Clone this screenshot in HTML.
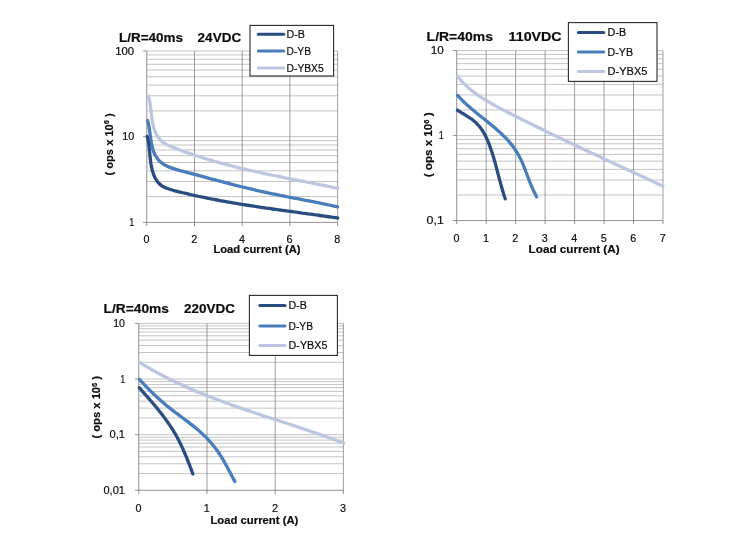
<!DOCTYPE html>
<html><head><meta charset="utf-8"><title>Electrical endurance L/R=40ms</title>
<style>html,body{margin:0;padding:0;background:#fff}svg{display:block}</style></head>
<body>
<svg width="750" height="550" viewBox="0 0 750 550">
<rect width="750" height="550" fill="#fff"/>
<path d="M146.8,196.60H337.6M146.8,181.51H337.6M146.8,170.80H337.6M146.8,162.50H337.6M146.8,155.71H337.6M146.8,149.98H337.6M146.8,145.01H337.6M146.8,140.62H337.6M146.8,136.70H337.6M146.8,110.90H337.6M146.8,95.81H337.6M146.8,85.10H337.6M146.8,76.80H337.6M146.8,70.01H337.6M146.8,64.28H337.6M146.8,59.31H337.6M146.8,54.92H337.6M146.8,51.00H337.6" stroke="#bdbdbd" stroke-width="0.9" fill="none"/>
<path d="M194.50,51.0V222.4M242.20,51.0V222.4M289.90,51.0V222.4M337.60,51.0V222.4" stroke="#7d7d7d" stroke-width="0.75" fill="none"/>
<path d="M146.80,51.0V226.0M143.0,222.40H337.6M194.50,222.4V226.0M242.20,222.4V226.0M289.90,222.4V226.0M337.60,222.4V226.0M143.0,136.70H146.8M143.0,51.00H146.8" stroke="#7d7d7d" stroke-width="0.85" fill="none"/>
<path d="M148.4,96.1 C148.7,97.0 149.4,99.8 149.8,101.7 C150.1,103.6 150.4,105.6 150.6,107.6 C150.9,109.5 151.0,111.5 151.3,113.5 C151.5,115.5 151.7,117.4 152.0,119.4 C152.4,121.4 152.7,123.4 153.2,125.3 C153.7,127.3 154.2,129.2 154.9,131.1 C155.7,132.9 156.5,134.8 157.6,136.4 C158.6,138.0 159.9,139.5 161.2,140.8 C162.6,142.0 164.2,143.1 165.9,144.1 C167.5,145.0 169.4,145.8 171.2,146.6 C173.0,147.4 174.9,148.1 176.7,148.8 C178.6,149.5 180.5,150.2 182.3,150.9 C184.2,151.6 186.1,152.3 187.9,152.9 C189.8,153.6 191.7,154.2 193.6,154.8 C195.5,155.5 197.3,156.1 199.2,156.7 C201.1,157.3 203.0,157.9 204.9,158.5 C206.8,159.0 208.7,159.6 210.6,160.2 C212.5,160.7 214.4,161.3 216.3,161.8 C218.2,162.3 220.1,162.9 222.0,163.4 C223.9,163.9 225.8,164.4 227.7,164.9 C229.6,165.4 231.5,165.9 233.4,166.4 C235.3,166.9 237.2,167.3 239.1,167.8 C241.1,168.3 243.0,168.7 244.9,169.2 C246.8,169.6 248.7,170.1 250.6,170.5 C252.6,170.9 254.5,171.4 256.4,171.8 C258.3,172.2 260.3,172.6 262.2,173.1 C264.1,173.5 266.0,173.9 268.0,174.3 C269.9,174.7 271.8,175.1 273.7,175.5 C275.7,175.9 277.6,176.3 279.5,176.7 C281.5,177.1 283.4,177.5 285.3,177.9 C287.3,178.2 289.2,178.6 291.1,179.0 C293.1,179.4 295.0,179.8 296.9,180.2 C298.9,180.5 300.8,180.9 302.7,181.3 C304.7,181.7 306.6,182.1 308.5,182.4 C310.5,182.8 312.4,183.2 314.4,183.6 C316.3,184.0 318.2,184.4 320.2,184.7 C322.1,185.1 324.0,185.5 326.0,185.9 C327.9,186.3 329.9,186.7 331.8,187.1 C333.7,187.5 336.6,188.1 337.6,188.3" stroke="#bcc6e0" stroke-width="3.3" fill="none" stroke-linecap="round" stroke-linejoin="round"/>
<path d="M147.6,120.5 C147.8,121.4 148.5,124.2 148.9,126.0 C149.2,127.9 149.5,129.9 149.8,131.8 C150.0,133.7 150.3,135.7 150.6,137.7 C150.8,139.6 151.1,141.6 151.5,143.6 C151.9,145.5 152.3,147.5 152.9,149.4 C153.5,151.3 154.2,153.1 155.0,154.8 C155.9,156.5 156.9,158.1 158.1,159.5 C159.3,161.0 160.8,162.2 162.3,163.3 C163.8,164.4 165.6,165.4 167.3,166.2 C169.0,167.1 170.9,167.8 172.8,168.4 C174.6,169.1 176.5,169.6 178.4,170.1 C180.3,170.7 182.2,171.1 184.1,171.6 C186.0,172.1 187.9,172.6 189.7,173.1 C191.6,173.6 193.5,174.1 195.4,174.6 C197.3,175.1 199.2,175.6 201.1,176.1 C202.9,176.6 204.8,177.1 206.7,177.6 C208.6,178.1 210.5,178.7 212.3,179.2 C214.2,179.7 216.1,180.2 218.0,180.7 C219.9,181.1 221.7,181.6 223.6,182.1 C225.5,182.6 227.4,183.1 229.2,183.6 C231.1,184.1 233.0,184.6 234.9,185.1 C236.8,185.5 238.6,186.0 240.5,186.5 C242.4,186.9 244.3,187.4 246.2,187.9 C248.1,188.3 250.0,188.8 251.8,189.2 C253.7,189.7 255.6,190.1 257.5,190.6 C259.4,191.0 261.3,191.4 263.2,191.8 C265.1,192.2 267.0,192.7 268.9,193.1 C270.8,193.5 272.7,193.9 274.6,194.2 C276.5,194.6 278.4,195.0 280.3,195.4 C282.3,195.8 284.2,196.2 286.1,196.5 C288.0,196.9 289.9,197.3 291.8,197.6 C293.7,198.0 295.6,198.4 297.6,198.7 C299.5,199.1 301.4,199.5 303.3,199.8 C305.2,200.2 307.1,200.6 309.0,200.9 C311.0,201.3 312.9,201.7 314.8,202.0 C316.7,202.4 318.6,202.8 320.5,203.2 C322.4,203.6 324.3,204.0 326.2,204.4 C328.1,204.8 330.0,205.2 331.9,205.6 C333.8,206.0 336.6,206.6 337.6,206.8" stroke="#4a7dbb" stroke-width="3.3" fill="none" stroke-linecap="round" stroke-linejoin="round"/>
<path d="M147.2,136.3 C147.4,137.3 148.1,140.2 148.5,142.1 C148.8,144.1 149.0,146.0 149.2,148.0 C149.5,150.0 149.6,151.9 149.8,153.9 C150.0,155.9 150.2,157.9 150.4,159.8 C150.6,161.8 150.9,163.8 151.3,165.8 C151.7,167.8 152.1,169.8 152.7,171.7 C153.3,173.7 154.0,175.7 154.9,177.5 C155.8,179.2 156.8,181.0 158.0,182.4 C159.2,183.8 160.7,185.0 162.2,186.1 C163.8,187.1 165.6,187.8 167.4,188.5 C169.2,189.2 171.2,189.7 173.1,190.3 C175.0,190.8 177.0,191.3 179.0,191.8 C180.9,192.3 182.9,192.7 184.8,193.2 C186.8,193.7 188.7,194.1 190.7,194.6 C192.6,195.0 194.6,195.4 196.5,195.9 C198.5,196.3 200.4,196.7 202.4,197.1 C204.3,197.5 206.3,197.9 208.2,198.3 C210.2,198.7 212.2,199.1 214.1,199.5 C216.1,199.8 218.0,200.2 220.0,200.6 C221.9,200.9 223.9,201.3 225.8,201.6 C227.8,202.0 229.7,202.3 231.7,202.7 C233.6,203.0 235.6,203.3 237.5,203.6 C239.5,204.0 241.4,204.3 243.4,204.6 C245.3,204.9 247.3,205.2 249.3,205.5 C251.2,205.8 253.2,206.1 255.1,206.4 C257.1,206.7 259.0,207.0 261.0,207.3 C262.9,207.6 264.9,207.9 266.9,208.2 C268.8,208.4 270.8,208.7 272.7,209.0 C274.7,209.3 276.6,209.5 278.6,209.8 C280.6,210.1 282.5,210.4 284.5,210.6 C286.4,210.9 288.4,211.2 290.4,211.4 C292.3,211.7 294.3,212.0 296.3,212.2 C298.2,212.5 300.2,212.8 302.2,213.1 C304.1,213.3 306.1,213.6 308.1,213.9 C310.0,214.1 312.0,214.4 314.0,214.7 C315.9,214.9 317.9,215.2 319.9,215.5 C321.8,215.8 323.8,216.0 325.8,216.3 C327.8,216.6 329.7,216.9 331.7,217.2 C333.7,217.4 336.7,217.9 337.7,218.0" stroke="#2a4d80" stroke-width="3.3" fill="none" stroke-linecap="round" stroke-linejoin="round"/>
<text x="134.2" y="225.9" font-family="'Liberation Sans', Arial, sans-serif" font-size="10.6" fill="#0c0c0c" stroke="#0c0c0c" stroke-width="0.18" text-anchor="end" textLength="5.0" lengthAdjust="spacingAndGlyphs">1</text>
<text x="134.2" y="140.2" font-family="'Liberation Sans', Arial, sans-serif" font-size="10.6" fill="#0c0c0c" stroke="#0c0c0c" stroke-width="0.18" text-anchor="end" textLength="12.0" lengthAdjust="spacingAndGlyphs">10</text>
<text x="134.2" y="54.5" font-family="'Liberation Sans', Arial, sans-serif" font-size="10.6" fill="#0c0c0c" stroke="#0c0c0c" stroke-width="0.18" text-anchor="end" textLength="19.0" lengthAdjust="spacingAndGlyphs">100</text>
<text x="146.5" y="242.8" font-family="'Liberation Sans', Arial, sans-serif" font-size="10.6" fill="#0c0c0c" stroke="#0c0c0c" stroke-width="0.18" text-anchor="middle" textLength="6" lengthAdjust="spacingAndGlyphs">0</text>
<text x="194.2" y="242.8" font-family="'Liberation Sans', Arial, sans-serif" font-size="10.6" fill="#0c0c0c" stroke="#0c0c0c" stroke-width="0.18" text-anchor="middle" textLength="6" lengthAdjust="spacingAndGlyphs">2</text>
<text x="241.9" y="242.8" font-family="'Liberation Sans', Arial, sans-serif" font-size="10.6" fill="#0c0c0c" stroke="#0c0c0c" stroke-width="0.18" text-anchor="middle" textLength="6" lengthAdjust="spacingAndGlyphs">4</text>
<text x="289.6" y="242.8" font-family="'Liberation Sans', Arial, sans-serif" font-size="10.6" fill="#0c0c0c" stroke="#0c0c0c" stroke-width="0.18" text-anchor="middle" textLength="6" lengthAdjust="spacingAndGlyphs">6</text>
<text x="337.3" y="242.8" font-family="'Liberation Sans', Arial, sans-serif" font-size="10.6" fill="#0c0c0c" stroke="#0c0c0c" stroke-width="0.18" text-anchor="middle" textLength="6" lengthAdjust="spacingAndGlyphs">8</text>
<text y="42.4" font-family="'Liberation Sans', Arial, sans-serif" font-size="13.2" font-weight="bold" fill="#0c0c0c" stroke="#0c0c0c" stroke-width="0.18"><tspan x="119.0" textLength="64.0" lengthAdjust="spacingAndGlyphs">L/R=40ms</tspan><tspan x="197.6" textLength="43.6" lengthAdjust="spacingAndGlyphs">24VDC</tspan></text>
<text x="213.4" y="252.6" font-family="'Liberation Sans', Arial, sans-serif" font-size="10.6" font-weight="bold" fill="#0c0c0c" stroke="#0c0c0c" stroke-width="0.18" textLength="87.2" lengthAdjust="spacingAndGlyphs">Load current (A)</text>
<text transform="translate(113.0,175.5) rotate(-90)" font-family="'Liberation Sans', Arial, sans-serif" font-size="10.6" font-weight="bold" fill="#0c0c0c" stroke="#0c0c0c" stroke-width="0.18" textLength="62.2" lengthAdjust="spacingAndGlyphs">( ops x 10<tspan dy="-3.6" font-size="7">6</tspan><tspan dy="3.6"> )</tspan></text>
<rect x="250.0" y="25.4" width="83.6" height="50.6" fill="#fff" stroke="#2b2b2b" stroke-width="1.1"/>
<path d="M258.3,34.3H283.7" stroke="#2a4d80" stroke-width="3" stroke-linecap="round"/>
<text x="286.6" y="37.8" font-family="'Liberation Sans', Arial, sans-serif" font-size="10" fill="#0c0c0c" stroke="#0c0c0c" stroke-width="0.18" textLength="18.4" lengthAdjust="spacingAndGlyphs">D-B</text>
<path d="M258.3,51.0H283.7" stroke="#4a7dbb" stroke-width="3" stroke-linecap="round"/>
<text x="286.6" y="54.5" font-family="'Liberation Sans', Arial, sans-serif" font-size="10" fill="#0c0c0c" stroke="#0c0c0c" stroke-width="0.18" textLength="24.4" lengthAdjust="spacingAndGlyphs">D-YB</text>
<path d="M258.3,68.0H283.7" stroke="#bcc6e0" stroke-width="3" stroke-linecap="round"/>
<text x="286.6" y="71.5" font-family="'Liberation Sans', Arial, sans-serif" font-size="10" fill="#0c0c0c" stroke="#0c0c0c" stroke-width="0.18" textLength="37.0" lengthAdjust="spacingAndGlyphs">D-YBX5</text>
<path d="M456.7,195.00H663.0M456.7,180.02H663.0M456.7,169.39H663.0M456.7,161.15H663.0M456.7,154.42H663.0M456.7,148.72H663.0M456.7,143.79H663.0M456.7,139.44H663.0M456.7,135.55H663.0M456.7,109.95H663.0M456.7,94.97H663.0M456.7,84.34H663.0M456.7,76.10H663.0M456.7,69.37H663.0M456.7,63.67H663.0M456.7,58.74H663.0M456.7,54.39H663.0M456.7,50.50H663.0" stroke="#bdbdbd" stroke-width="0.9" fill="none"/>
<path d="M486.17,50.5V220.6M515.64,50.5V220.6M545.11,50.5V220.6M574.58,50.5V220.6M604.05,50.5V220.6M633.52,50.5V220.6M662.99,50.5V220.6" stroke="#7d7d7d" stroke-width="0.75" fill="none"/>
<path d="M456.70,50.5V224.2M452.9,220.60H663.0M486.17,220.6V224.2M515.64,220.6V224.2M545.11,220.6V224.2M574.58,220.6V224.2M604.05,220.6V224.2M633.52,220.6V224.2M662.99,220.6V224.2M452.9,135.55H456.7M452.9,50.50H456.7" stroke="#7d7d7d" stroke-width="0.85" fill="none"/>
<path d="M457.6,76.4 C458.2,77.1 460.1,79.6 461.5,81.1 C462.9,82.6 464.3,84.0 465.7,85.4 C467.2,86.8 468.7,88.1 470.2,89.4 C471.7,90.6 473.3,91.8 474.9,93.0 C476.5,94.2 478.1,95.4 479.8,96.5 C481.4,97.6 483.1,98.6 484.8,99.7 C486.5,100.7 488.2,101.7 489.9,102.7 C491.7,103.7 493.4,104.7 495.2,105.6 C496.9,106.6 498.7,107.5 500.5,108.5 C502.3,109.4 504.0,110.3 505.8,111.2 C507.6,112.2 509.4,113.1 511.2,114.0 C513.0,114.9 514.7,115.8 516.5,116.7 C518.3,117.6 520.1,118.5 521.9,119.4 C523.7,120.3 525.5,121.2 527.3,122.1 C529.1,123.0 530.9,123.9 532.6,124.8 C534.4,125.7 536.2,126.6 538.0,127.4 C539.8,128.3 541.6,129.2 543.4,130.1 C545.2,131.0 547.0,131.8 548.8,132.7 C550.6,133.6 552.4,134.4 554.2,135.3 C556.0,136.2 557.8,137.0 559.7,137.9 C561.5,138.8 563.3,139.6 565.1,140.5 C566.9,141.4 568.7,142.2 570.5,143.1 C572.3,143.9 574.1,144.8 575.9,145.6 C577.7,146.5 579.5,147.3 581.4,148.2 C583.2,149.0 585.0,149.9 586.8,150.7 C588.6,151.6 590.4,152.4 592.2,153.3 C594.0,154.1 595.9,155.0 597.7,155.8 C599.5,156.7 601.3,157.5 603.1,158.4 C604.9,159.2 606.7,160.0 608.6,160.9 C610.4,161.7 612.2,162.6 614.0,163.4 C615.8,164.3 617.6,165.1 619.5,165.9 C621.3,166.8 623.1,167.6 624.9,168.5 C626.7,169.3 628.5,170.1 630.3,171.0 C632.2,171.8 634.0,172.7 635.8,173.5 C637.6,174.4 639.4,175.2 641.2,176.0 C643.0,176.9 644.9,177.7 646.7,178.6 C648.5,179.4 650.3,180.3 652.1,181.1 C653.9,182.0 655.7,182.8 657.6,183.7 C659.4,184.5 662.1,185.8 663.0,186.2" stroke="#bcc6e0" stroke-width="3.3" fill="none" stroke-linecap="round" stroke-linejoin="round"/>
<path d="M457.7,95.4 C458.0,95.8 459.1,97.0 459.9,97.9 C460.7,98.7 461.4,99.5 462.2,100.3 C463.0,101.0 463.8,101.8 464.6,102.6 C465.4,103.4 466.3,104.1 467.1,104.9 C467.9,105.6 468.7,106.4 469.6,107.1 C470.4,107.8 471.3,108.6 472.1,109.3 C473.0,110.0 473.9,110.7 474.7,111.5 C475.6,112.2 476.5,112.9 477.3,113.6 C478.2,114.3 479.1,115.0 480.0,115.7 C480.9,116.4 481.7,117.1 482.6,117.8 C483.5,118.5 484.4,119.2 485.3,120.0 C486.2,120.7 487.0,121.4 487.9,122.1 C488.8,122.8 489.7,123.5 490.5,124.2 C491.4,124.9 492.3,125.6 493.1,126.4 C494.0,127.1 494.9,127.8 495.7,128.5 C496.5,129.3 497.4,130.0 498.2,130.8 C499.1,131.5 499.9,132.3 500.7,133.0 C501.5,133.8 502.3,134.6 503.1,135.4 C503.9,136.1 504.7,136.9 505.5,137.7 C506.2,138.5 507.0,139.4 507.7,140.2 C508.5,141.0 509.2,141.9 509.9,142.7 C510.7,143.6 511.4,144.4 512.0,145.3 C512.7,146.2 513.4,147.1 514.0,148.0 C514.7,148.9 515.3,149.9 515.9,150.8 C516.5,151.7 517.1,152.7 517.7,153.6 C518.3,154.6 518.8,155.6 519.3,156.6 C519.9,157.5 520.4,158.5 520.9,159.6 C521.3,160.6 521.8,161.6 522.3,162.6 C522.7,163.6 523.1,164.7 523.6,165.7 C524.0,166.8 524.4,167.8 524.8,168.8 C525.2,169.9 525.6,170.9 526.0,172.0 C526.4,173.0 526.8,174.1 527.2,175.2 C527.6,176.2 528.0,177.3 528.4,178.3 C528.8,179.4 529.2,180.4 529.6,181.5 C530.0,182.5 530.5,183.5 530.9,184.6 C531.3,185.6 531.7,186.7 532.2,187.7 C532.6,188.7 533.1,189.7 533.5,190.8 C534.0,191.8 534.5,192.8 535.0,193.8 C535.5,194.8 536.3,196.3 536.6,196.8" stroke="#4a7dbb" stroke-width="3.3" fill="none" stroke-linecap="round" stroke-linejoin="round"/>
<path d="M457.4,110.1 C457.7,110.4 458.9,111.1 459.6,111.6 C460.4,112.0 461.1,112.5 461.9,113.0 C462.7,113.4 463.5,113.9 464.3,114.4 C465.1,114.9 465.8,115.3 466.6,115.8 C467.4,116.3 468.2,116.8 468.9,117.3 C469.7,117.8 470.5,118.3 471.2,118.8 C471.9,119.4 472.6,119.9 473.4,120.5 C474.1,121.0 474.7,121.6 475.4,122.2 C476.1,122.8 476.7,123.4 477.3,124.1 C477.9,124.7 478.5,125.4 479.1,126.0 C479.6,126.7 480.2,127.4 480.7,128.1 C481.2,128.8 481.7,129.5 482.2,130.3 C482.7,131.0 483.2,131.8 483.6,132.5 C484.1,133.3 484.5,134.1 484.9,134.8 C485.3,135.6 485.8,136.4 486.1,137.2 C486.5,138.0 486.9,138.9 487.3,139.7 C487.6,140.5 488.0,141.3 488.3,142.2 C488.7,143.0 489.0,143.8 489.3,144.7 C489.6,145.5 489.9,146.4 490.2,147.2 C490.5,148.0 490.8,148.9 491.1,149.8 C491.4,150.6 491.7,151.5 492.0,152.3 C492.3,153.2 492.5,154.0 492.8,154.9 C493.1,155.7 493.3,156.6 493.6,157.5 C493.8,158.3 494.1,159.2 494.3,160.1 C494.6,160.9 494.8,161.8 495.1,162.7 C495.3,163.5 495.5,164.4 495.8,165.3 C496.0,166.1 496.2,167.0 496.5,167.9 C496.7,168.8 496.9,169.6 497.2,170.5 C497.4,171.4 497.6,172.2 497.8,173.1 C498.1,174.0 498.3,174.9 498.5,175.7 C498.8,176.6 499.0,177.5 499.2,178.3 C499.4,179.2 499.7,180.1 499.9,180.9 C500.1,181.8 500.4,182.7 500.6,183.5 C500.8,184.4 501.1,185.3 501.3,186.1 C501.6,187.0 501.8,187.9 502.1,188.7 C502.3,189.6 502.6,190.4 502.8,191.3 C503.1,192.2 503.4,193.0 503.6,193.9 C503.9,194.7 504.2,195.6 504.4,196.4 C504.7,197.3 505.2,198.5 505.3,198.9" stroke="#2a4d80" stroke-width="3.3" fill="none" stroke-linecap="round" stroke-linejoin="round"/>
<text x="443.8" y="224.1" font-family="'Liberation Sans', Arial, sans-serif" font-size="10.6" fill="#0c0c0c" stroke="#0c0c0c" stroke-width="0.18" text-anchor="end" textLength="17.2" lengthAdjust="spacingAndGlyphs">0,1</text>
<text x="443.8" y="139.1" font-family="'Liberation Sans', Arial, sans-serif" font-size="10.6" fill="#0c0c0c" stroke="#0c0c0c" stroke-width="0.18" text-anchor="end" textLength="5.0" lengthAdjust="spacingAndGlyphs">1</text>
<text x="443.8" y="54.0" font-family="'Liberation Sans', Arial, sans-serif" font-size="10.6" fill="#0c0c0c" stroke="#0c0c0c" stroke-width="0.18" text-anchor="end" textLength="13.0" lengthAdjust="spacingAndGlyphs">10</text>
<text x="456.4" y="241.8" font-family="'Liberation Sans', Arial, sans-serif" font-size="10.6" fill="#0c0c0c" stroke="#0c0c0c" stroke-width="0.18" text-anchor="middle" textLength="6" lengthAdjust="spacingAndGlyphs">0</text>
<text x="485.9" y="241.8" font-family="'Liberation Sans', Arial, sans-serif" font-size="10.6" fill="#0c0c0c" stroke="#0c0c0c" stroke-width="0.18" text-anchor="middle" textLength="6" lengthAdjust="spacingAndGlyphs">1</text>
<text x="515.3" y="241.8" font-family="'Liberation Sans', Arial, sans-serif" font-size="10.6" fill="#0c0c0c" stroke="#0c0c0c" stroke-width="0.18" text-anchor="middle" textLength="6" lengthAdjust="spacingAndGlyphs">2</text>
<text x="544.8" y="241.8" font-family="'Liberation Sans', Arial, sans-serif" font-size="10.6" fill="#0c0c0c" stroke="#0c0c0c" stroke-width="0.18" text-anchor="middle" textLength="6" lengthAdjust="spacingAndGlyphs">3</text>
<text x="574.3" y="241.8" font-family="'Liberation Sans', Arial, sans-serif" font-size="10.6" fill="#0c0c0c" stroke="#0c0c0c" stroke-width="0.18" text-anchor="middle" textLength="6" lengthAdjust="spacingAndGlyphs">4</text>
<text x="603.8" y="241.8" font-family="'Liberation Sans', Arial, sans-serif" font-size="10.6" fill="#0c0c0c" stroke="#0c0c0c" stroke-width="0.18" text-anchor="middle" textLength="6" lengthAdjust="spacingAndGlyphs">5</text>
<text x="633.2" y="241.8" font-family="'Liberation Sans', Arial, sans-serif" font-size="10.6" fill="#0c0c0c" stroke="#0c0c0c" stroke-width="0.18" text-anchor="middle" textLength="6" lengthAdjust="spacingAndGlyphs">6</text>
<text x="662.7" y="241.8" font-family="'Liberation Sans', Arial, sans-serif" font-size="10.6" fill="#0c0c0c" stroke="#0c0c0c" stroke-width="0.18" text-anchor="middle" textLength="6" lengthAdjust="spacingAndGlyphs">7</text>
<text y="40.6" font-family="'Liberation Sans', Arial, sans-serif" font-size="13.2" font-weight="bold" fill="#0c0c0c" stroke="#0c0c0c" stroke-width="0.18"><tspan x="426.6" textLength="66.4" lengthAdjust="spacingAndGlyphs">L/R=40ms</tspan><tspan x="508.6" textLength="53.0" lengthAdjust="spacingAndGlyphs">110VDC</tspan></text>
<text x="528.6" y="252.6" font-family="'Liberation Sans', Arial, sans-serif" font-size="10.6" font-weight="bold" fill="#0c0c0c" stroke="#0c0c0c" stroke-width="0.18" textLength="91.0" lengthAdjust="spacingAndGlyphs">Load current (A)</text>
<text transform="translate(432.4,177.3) rotate(-90)" font-family="'Liberation Sans', Arial, sans-serif" font-size="10.6" font-weight="bold" fill="#0c0c0c" stroke="#0c0c0c" stroke-width="0.18" textLength="65.0" lengthAdjust="spacingAndGlyphs">( ops x 10<tspan dy="-3.6" font-size="7">6</tspan><tspan dy="3.6"> )</tspan></text>
<rect x="568.4" y="22.6" width="88.6" height="58.8" fill="#fff" stroke="#2b2b2b" stroke-width="1.1"/>
<path d="M578.3,32.6H603.7" stroke="#2a4d80" stroke-width="3" stroke-linecap="round"/>
<text x="607.6" y="36.1" font-family="'Liberation Sans', Arial, sans-serif" font-size="10" fill="#0c0c0c" stroke="#0c0c0c" stroke-width="0.18" textLength="18.6" lengthAdjust="spacingAndGlyphs">D-B</text>
<path d="M578.3,52.0H603.7" stroke="#4a7dbb" stroke-width="3" stroke-linecap="round"/>
<text x="607.6" y="55.5" font-family="'Liberation Sans', Arial, sans-serif" font-size="10" fill="#0c0c0c" stroke="#0c0c0c" stroke-width="0.18" textLength="25.4" lengthAdjust="spacingAndGlyphs">D-YB</text>
<path d="M578.3,71.4H603.7" stroke="#bcc6e0" stroke-width="3" stroke-linecap="round"/>
<text x="607.6" y="74.9" font-family="'Liberation Sans', Arial, sans-serif" font-size="10" fill="#0c0c0c" stroke="#0c0c0c" stroke-width="0.18" textLength="39.8" lengthAdjust="spacingAndGlyphs">D-YBX5</text>
<path d="M138.8,473.55H343.4M138.8,463.76H343.4M138.8,456.81H343.4M138.8,451.42H343.4M138.8,447.01H343.4M138.8,443.29H343.4M138.8,440.06H343.4M138.8,437.22H343.4M138.8,434.67H343.4M138.8,417.92H343.4M138.8,408.13H343.4M138.8,401.18H343.4M138.8,395.79H343.4M138.8,391.38H343.4M138.8,387.66H343.4M138.8,384.43H343.4M138.8,381.59H343.4M138.8,379.04H343.4M138.8,362.29H343.4M138.8,352.50H343.4M138.8,345.55H343.4M138.8,340.16H343.4M138.8,335.75H343.4M138.8,332.03H343.4M138.8,328.80H343.4M138.8,325.96H343.4M138.8,323.41H343.4" stroke="#bdbdbd" stroke-width="0.9" fill="none"/>
<path d="M207.00,323.4V490.3M275.20,323.4V490.3M343.40,323.4V490.3" stroke="#7d7d7d" stroke-width="0.75" fill="none"/>
<path d="M138.80,323.4V493.9M135.0,490.30H343.4M207.00,490.3V493.9M275.20,490.3V493.9M343.40,490.3V493.9M135.0,434.67H138.8M135.0,379.04H138.8M135.0,323.41H138.8" stroke="#7d7d7d" stroke-width="0.85" fill="none"/>
<path d="M139.6,362.4 C140.4,362.9 142.8,364.4 144.5,365.4 C146.1,366.3 147.7,367.3 149.3,368.2 C151.0,369.2 152.6,370.1 154.3,371.0 C155.9,371.9 157.6,372.8 159.2,373.7 C160.9,374.6 162.5,375.5 164.2,376.4 C165.9,377.2 167.6,378.1 169.2,378.9 C170.9,379.7 172.6,380.6 174.3,381.4 C176.0,382.2 177.7,383.0 179.4,383.8 C181.1,384.6 182.8,385.4 184.5,386.1 C186.2,386.9 187.9,387.7 189.6,388.4 C191.3,389.2 193.1,389.9 194.8,390.7 C196.5,391.4 198.2,392.1 200.0,392.8 C201.7,393.5 203.5,394.2 205.2,394.9 C206.9,395.6 208.7,396.3 210.4,397.0 C212.2,397.7 213.9,398.4 215.7,399.0 C217.4,399.7 219.2,400.4 220.9,401.0 C222.7,401.7 224.5,402.3 226.2,403.0 C228.0,403.6 229.8,404.2 231.5,404.9 C233.3,405.5 235.1,406.1 236.8,406.7 C238.6,407.4 240.4,408.0 242.2,408.6 C243.9,409.2 245.7,409.8 247.5,410.4 C249.3,411.0 251.1,411.6 252.8,412.2 C254.6,412.8 256.4,413.4 258.2,414.0 C260.0,414.6 261.8,415.2 263.6,415.8 C265.3,416.4 267.1,417.0 268.9,417.5 C270.7,418.1 272.5,418.7 274.3,419.3 C276.1,419.9 277.9,420.5 279.6,421.0 C281.4,421.6 283.2,422.2 285.0,422.8 C286.8,423.4 288.6,424.0 290.4,424.5 C292.2,425.1 293.9,425.7 295.7,426.3 C297.5,426.9 299.3,427.5 301.1,428.1 C302.9,428.7 304.7,429.3 306.4,429.9 C308.2,430.5 310.0,431.1 311.8,431.7 C313.6,432.3 315.3,432.9 317.1,433.5 C318.9,434.1 320.7,434.7 322.4,435.3 C324.2,435.9 326.0,436.6 327.7,437.2 C329.5,437.8 331.3,438.5 333.0,439.1 C334.8,439.7 336.6,440.4 338.3,441.0 C340.1,441.7 342.7,442.7 343.6,443.0" stroke="#bcc6e0" stroke-width="3.3" fill="none" stroke-linecap="round" stroke-linejoin="round"/>
<path d="M139.5,379.6 C139.9,380.0 141.2,381.3 142.0,382.2 C142.8,383.1 143.6,384.0 144.5,384.9 C145.3,385.7 146.2,386.6 147.0,387.5 C147.8,388.3 148.7,389.2 149.6,390.0 C150.4,390.9 151.3,391.7 152.1,392.6 C153.0,393.4 153.9,394.2 154.8,395.1 C155.6,395.9 156.5,396.7 157.4,397.5 C158.3,398.3 159.2,399.1 160.1,399.9 C161.0,400.7 161.9,401.5 162.8,402.3 C163.7,403.1 164.6,403.9 165.6,404.7 C166.5,405.4 167.4,406.2 168.4,407.0 C169.3,407.7 170.2,408.5 171.2,409.2 C172.1,410.0 173.1,410.7 174.1,411.4 C175.0,412.2 176.0,412.9 177.0,413.6 C177.9,414.4 178.9,415.1 179.9,415.8 C180.8,416.5 181.8,417.3 182.8,418.0 C183.8,418.7 184.7,419.4 185.7,420.2 C186.7,420.9 187.6,421.6 188.6,422.4 C189.5,423.1 190.5,423.8 191.5,424.6 C192.4,425.3 193.3,426.1 194.3,426.8 C195.2,427.6 196.1,428.4 197.1,429.1 C198.0,429.9 198.9,430.7 199.8,431.5 C200.7,432.3 201.6,433.1 202.5,433.9 C203.3,434.8 204.2,435.6 205.0,436.4 C205.9,437.3 206.7,438.1 207.6,439.0 C208.4,439.9 209.2,440.8 210.0,441.7 C210.8,442.5 211.6,443.5 212.3,444.4 C213.1,445.3 213.9,446.2 214.6,447.2 C215.3,448.1 216.1,449.1 216.8,450.1 C217.5,451.0 218.2,452.0 218.8,453.0 C219.5,454.0 220.2,455.0 220.8,456.1 C221.4,457.1 222.1,458.1 222.7,459.2 C223.3,460.2 223.9,461.2 224.5,462.3 C225.1,463.4 225.7,464.4 226.3,465.5 C226.9,466.5 227.5,467.6 228.0,468.7 C228.6,469.8 229.2,470.8 229.8,471.9 C230.3,473.0 230.9,474.0 231.5,475.1 C232.0,476.2 232.6,477.3 233.2,478.3 C233.7,479.4 234.6,481.0 234.9,481.5" stroke="#4a7dbb" stroke-width="3.3" fill="none" stroke-linecap="round" stroke-linejoin="round"/>
<path d="M139.3,387.7 C139.5,388.1 140.4,389.0 141.0,389.7 C141.6,390.3 142.2,391.0 142.7,391.6 C143.3,392.3 143.9,393.0 144.5,393.6 C145.1,394.3 145.6,394.9 146.2,395.6 C146.8,396.2 147.4,396.9 148.0,397.6 C148.5,398.2 149.1,398.9 149.7,399.6 C150.3,400.2 150.8,400.9 151.4,401.5 C152.0,402.2 152.6,402.9 153.1,403.6 C153.7,404.2 154.3,404.9 154.8,405.6 C155.4,406.2 156.0,406.9 156.5,407.6 C157.1,408.3 157.6,409.0 158.2,409.6 C158.7,410.3 159.3,411.0 159.8,411.7 C160.4,412.4 160.9,413.1 161.5,413.8 C162.0,414.5 162.5,415.2 163.1,415.9 C163.6,416.6 164.1,417.3 164.7,418.0 C165.2,418.7 165.7,419.4 166.2,420.1 C166.7,420.8 167.2,421.5 167.7,422.2 C168.2,422.9 168.7,423.7 169.2,424.4 C169.7,425.1 170.2,425.8 170.7,426.6 C171.2,427.3 171.6,428.0 172.1,428.8 C172.6,429.5 173.0,430.2 173.5,431.0 C173.9,431.7 174.4,432.5 174.8,433.2 C175.3,434.0 175.7,434.7 176.1,435.5 C176.6,436.3 177.0,437.0 177.4,437.8 C177.8,438.6 178.2,439.3 178.6,440.1 C179.0,440.9 179.4,441.7 179.8,442.4 C180.2,443.2 180.6,444.0 181.0,444.8 C181.3,445.6 181.7,446.4 182.1,447.2 C182.4,448.0 182.8,448.8 183.2,449.6 C183.5,450.4 183.9,451.2 184.2,452.0 C184.6,452.8 184.9,453.6 185.2,454.4 C185.6,455.2 185.9,456.0 186.3,456.8 C186.6,457.6 186.9,458.5 187.2,459.3 C187.6,460.1 187.9,460.9 188.2,461.7 C188.5,462.5 188.9,463.4 189.2,464.2 C189.5,465.0 189.8,465.8 190.1,466.6 C190.4,467.5 190.8,468.3 191.1,469.1 C191.4,469.9 191.7,470.7 192.0,471.6 C192.3,472.4 192.8,473.6 192.9,474.0" stroke="#2a4d80" stroke-width="3.3" fill="none" stroke-linecap="round" stroke-linejoin="round"/>
<text x="125.0" y="493.8" font-family="'Liberation Sans', Arial, sans-serif" font-size="10.6" fill="#0c0c0c" stroke="#0c0c0c" stroke-width="0.18" text-anchor="end" textLength="21.6" lengthAdjust="spacingAndGlyphs">0,01</text>
<text x="125.0" y="438.2" font-family="'Liberation Sans', Arial, sans-serif" font-size="10.6" fill="#0c0c0c" stroke="#0c0c0c" stroke-width="0.18" text-anchor="end" textLength="15.5" lengthAdjust="spacingAndGlyphs">0,1</text>
<text x="125.0" y="382.5" font-family="'Liberation Sans', Arial, sans-serif" font-size="10.6" fill="#0c0c0c" stroke="#0c0c0c" stroke-width="0.18" text-anchor="end" textLength="4.6" lengthAdjust="spacingAndGlyphs">1</text>
<text x="125.0" y="326.9" font-family="'Liberation Sans', Arial, sans-serif" font-size="10.6" fill="#0c0c0c" stroke="#0c0c0c" stroke-width="0.18" text-anchor="end" textLength="11.8" lengthAdjust="spacingAndGlyphs">10</text>
<text x="138.5" y="511.8" font-family="'Liberation Sans', Arial, sans-serif" font-size="10.6" fill="#0c0c0c" stroke="#0c0c0c" stroke-width="0.18" text-anchor="middle" textLength="6" lengthAdjust="spacingAndGlyphs">0</text>
<text x="206.7" y="511.8" font-family="'Liberation Sans', Arial, sans-serif" font-size="10.6" fill="#0c0c0c" stroke="#0c0c0c" stroke-width="0.18" text-anchor="middle" textLength="6" lengthAdjust="spacingAndGlyphs">1</text>
<text x="274.9" y="511.8" font-family="'Liberation Sans', Arial, sans-serif" font-size="10.6" fill="#0c0c0c" stroke="#0c0c0c" stroke-width="0.18" text-anchor="middle" textLength="6" lengthAdjust="spacingAndGlyphs">2</text>
<text x="343.1" y="511.8" font-family="'Liberation Sans', Arial, sans-serif" font-size="10.6" fill="#0c0c0c" stroke="#0c0c0c" stroke-width="0.18" text-anchor="middle" textLength="6" lengthAdjust="spacingAndGlyphs">3</text>
<text y="312.6" font-family="'Liberation Sans', Arial, sans-serif" font-size="13.2" font-weight="bold" fill="#0c0c0c" stroke="#0c0c0c" stroke-width="0.18"><tspan x="103.6" textLength="65.4" lengthAdjust="spacingAndGlyphs">L/R=40ms</tspan><tspan x="184.0" textLength="51.0" lengthAdjust="spacingAndGlyphs">220VDC</tspan></text>
<text x="210.4" y="523.6" font-family="'Liberation Sans', Arial, sans-serif" font-size="10.6" font-weight="bold" fill="#0c0c0c" stroke="#0c0c0c" stroke-width="0.18" textLength="88.0" lengthAdjust="spacingAndGlyphs">Load current (A)</text>
<text transform="translate(100.4,438.6) rotate(-90)" font-family="'Liberation Sans', Arial, sans-serif" font-size="10.6" font-weight="bold" fill="#0c0c0c" stroke="#0c0c0c" stroke-width="0.18" textLength="62.7" lengthAdjust="spacingAndGlyphs">( ops x 10<tspan dy="-3.6" font-size="7">6</tspan><tspan dy="3.6"> )</tspan></text>
<rect x="249.4" y="295.4" width="88.0" height="60.0" fill="#fff" stroke="#2b2b2b" stroke-width="1.1"/>
<path d="M259.8,305.6H285.0" stroke="#2a4d80" stroke-width="3" stroke-linecap="round"/>
<text x="288.6" y="309.1" font-family="'Liberation Sans', Arial, sans-serif" font-size="10" fill="#0c0c0c" stroke="#0c0c0c" stroke-width="0.18" textLength="18.4" lengthAdjust="spacingAndGlyphs">D-B</text>
<path d="M259.8,326.0H285.0" stroke="#4a7dbb" stroke-width="3" stroke-linecap="round"/>
<text x="288.6" y="329.5" font-family="'Liberation Sans', Arial, sans-serif" font-size="10" fill="#0c0c0c" stroke="#0c0c0c" stroke-width="0.18" textLength="24.4" lengthAdjust="spacingAndGlyphs">D-YB</text>
<path d="M259.8,345.6H285.0" stroke="#bcc6e0" stroke-width="3" stroke-linecap="round"/>
<text x="288.6" y="349.1" font-family="'Liberation Sans', Arial, sans-serif" font-size="10" fill="#0c0c0c" stroke="#0c0c0c" stroke-width="0.18" textLength="38.8" lengthAdjust="spacingAndGlyphs">D-YBX5</text>
</svg>
</body></html>
